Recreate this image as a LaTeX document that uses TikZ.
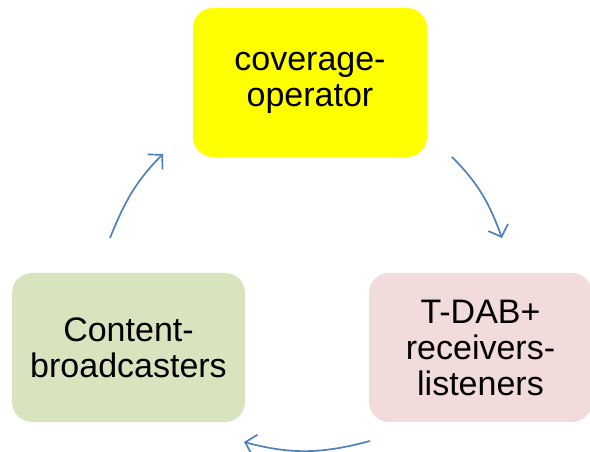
\documentclass[tikz,border=0pt]{standalone}
\usepackage{fontspec}
\setmainfont{Liberation Sans}
\usetikzlibrary{arrows.meta}
\definecolor{boxyellow}{HTML}{FFFF00}
\definecolor{boxgreen}{HTML}{D7E4BD}
\definecolor{boxpink}{HTML}{F2DCDB}
\definecolor{arrowblue}{HTML}{4F81BD}
\tikzset{
  cyclebox/.style={rounded corners=20pt, inner sep=0pt, align=center,
    minimum height=149pt,
    font=\fontsize{34pt}{36pt}\selectfont},
  cyclearrow/.style={draw=arrowblue, line width=1.7pt,
    -{Straight Barb[length=10pt,width=21pt,line width=1.7pt]}}
}
\begin{document}
\begin{tikzpicture}[x=1pt,y=1pt]
  \useasboundingbox (0,0) rectangle (590,452);
  % three stages of the cycle
  \node[cyclebox, fill=boxyellow, minimum width=234pt] (coverage) at (310,369.5)
    {coverage-\\operator};
  \node[cyclebox, fill=boxgreen, minimum width=233pt] (content) at (128.5,104.5)
    {Content-\\broadcasters};
  \node[cyclebox, fill=boxpink, minimum width=223pt] (receivers) at (480.5,104.5)
    {T-DAB+\\receivers-\\listeners};
  % arrow end points
  \coordinate (a1s) at (452,295);
  \coordinate (a1e) at (502,214);
  \coordinate (a2s) at (370,11);
  \coordinate (a2e) at (244,10);
  \coordinate (a3s) at (110,214);
  \coordinate (a3e) at (163,298);
  % clockwise arrows between the stages
  \draw[cyclearrow] (a1s) to[out=-45,in=110] (a1e);
  \draw[cyclearrow] (a2s) to[out=195,in=-15] (a2e);
  \draw[cyclearrow] (a3s) to[out=68,in=225] (a3e);
\end{tikzpicture}
\end{document}
